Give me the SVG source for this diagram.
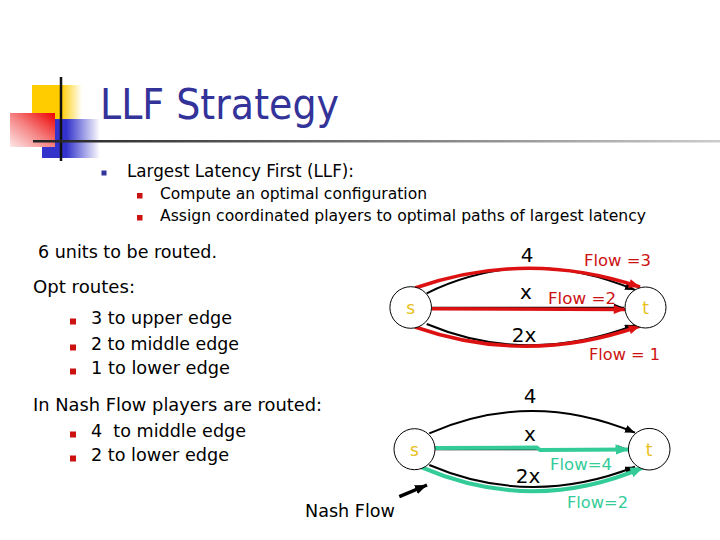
<svg xmlns="http://www.w3.org/2000/svg" width="720" height="540" viewBox="0 0 720 540">
<defs>
<style>
.t{font-family:"DejaVu Sans","Liberation Sans",sans-serif;fill:#000}
.ttl{font-family:"DejaVu Sans","Liberation Sans",sans-serif;fill:#333399;font-size:43px}
.b1{font-size:17px}
.b2{font-size:15.5px}
.l{font-size:18px}
.g{font-family:"DejaVu Sans","Liberation Sans",sans-serif;font-size:20px;fill:#000}
.fr{font-family:"DejaVu Sans","Liberation Sans",sans-serif;font-size:16.5px;fill:#cc1111}
.ft{font-family:"DejaVu Sans","Liberation Sans",sans-serif;font-size:16.5px;fill:#33cc99}
.nl{font-family:"DejaVu Sans","Liberation Sans",sans-serif;font-size:17px;fill:#e8c020;text-anchor:middle}
.node{fill:#fff;stroke:#000;stroke-width:1}
.eb{fill:none;stroke:#000;stroke-width:2}
.er{fill:none;stroke:#dd1111;stroke-width:3.5}
.et{fill:none;stroke:#33cc99;stroke-width:4}
.rb{fill:#cc1111}
</style>
<linearGradient id="gy" x1="0" y1="0" x2="1" y2="0">
<stop offset="0" stop-color="#ffcc00"/><stop offset="0.58" stop-color="#ffcc00"/><stop offset="1" stop-color="#ffcc00" stop-opacity="0"/>
</linearGradient>
<linearGradient id="gb" x1="0" y1="0" x2="1" y2="0">
<stop offset="0" stop-color="#3333cc"/><stop offset="0.42" stop-color="#3333cc"/><stop offset="1" stop-color="#3333cc" stop-opacity="0"/>
</linearGradient>
<linearGradient id="gr" x1="0" y1="1" x2="1" y2="0">
<stop offset="0" stop-color="#fde8e8"/><stop offset="0.5" stop-color="#f58080"/><stop offset="1" stop-color="#ee0000"/>
</linearGradient>
<linearGradient id="gl" x1="0" y1="0" x2="1" y2="0">
<stop offset="0" stop-color="#222"/><stop offset="1" stop-color="#cccccc"/>
</linearGradient>
<marker id="ab" viewBox="0 0 10 8" refX="10" refY="4" markerWidth="10" markerHeight="8" markerUnits="userSpaceOnUse" orient="auto">
<path d="M0,0 L10,4 L0,8 z" fill="#000"/>
</marker>
<marker id="ar" viewBox="0 0 10 8" refX="10" refY="4" markerWidth="12" markerHeight="9" markerUnits="userSpaceOnUse" orient="auto">
<path d="M0,0 L10,4 L0,8 z" fill="#dd1111"/>
</marker>
<marker id="at" viewBox="0 0 10 8" refX="10" refY="4" markerWidth="13" markerHeight="11" markerUnits="userSpaceOnUse" orient="auto">
<path d="M0,0 L10,4 L0,8 z" fill="#33cc99"/>
</marker>
<marker id="ak" viewBox="0 0 10 8" refX="10" refY="4" markerWidth="12" markerHeight="10" markerUnits="userSpaceOnUse" orient="auto">
<path d="M0,0 L10,4 L0,8 z" fill="#000"/>
</marker>
</defs>
<rect width="720" height="540" fill="#fff"/>

<g id="title-deco">
<rect x="32" y="85" width="50" height="34" fill="url(#gy)"/>
<rect x="42" y="119" width="58" height="39" fill="url(#gb)"/>
<rect x="10" y="113" width="45" height="34" fill="url(#gr)"/>
<line x1="61" y1="77" x2="61" y2="161" stroke="#111" stroke-width="2.5"/>
<rect x="33" y="140" width="687" height="2.5" fill="url(#gl)"/>
</g>
<g id="title"><text class="ttl" x="100" y="119" textLength="239" lengthAdjust="spacingAndGlyphs">LLF Strategy</text></g>

<g id="bullets-top">
<rect x="101.5" y="170.5" width="5" height="5" fill="#333399"/>
<text class="t b1" x="127" y="177" textLength="227" lengthAdjust="spacingAndGlyphs">Largest Latency First (LLF):</text>
<rect class="rb" x="137" y="193" width="5.5" height="5.5"/>
<text class="t b2" x="160" y="199" textLength="267" lengthAdjust="spacingAndGlyphs">Compute an optimal configuration</text>
<rect class="rb" x="137" y="215" width="5.5" height="5.5"/>
<text class="t b2" x="160" y="221" textLength="486" lengthAdjust="spacingAndGlyphs">Assign coordinated players to optimal paths of largest latency</text>
</g>

<g id="left-text">
<text class="t l" x="38" y="258" textLength="179" lengthAdjust="spacingAndGlyphs">6 units to be routed.</text>
<text class="t l" x="33" y="293" textLength="102" lengthAdjust="spacingAndGlyphs">Opt routes:</text>
<rect class="rb" x="70" y="318.5" width="6" height="6"/>
<text class="t l" x="91" y="324" textLength="141" lengthAdjust="spacingAndGlyphs">3 to upper edge</text>
<rect class="rb" x="70" y="344.5" width="6" height="6"/>
<text class="t l" x="91" y="350" textLength="148" lengthAdjust="spacingAndGlyphs">2 to middle edge</text>
<rect class="rb" x="70" y="368.5" width="6" height="6"/>
<text class="t l" x="91" y="374" textLength="139" lengthAdjust="spacingAndGlyphs">1 to lower edge</text>
<text class="t l" x="33" y="411" textLength="289" lengthAdjust="spacingAndGlyphs">In Nash Flow players are routed:</text>
<rect class="rb" x="70" y="431.5" width="6" height="6"/>
<text class="t l" x="91" y="437" style="white-space:pre" textLength="155" lengthAdjust="spacingAndGlyphs">4  to middle edge</text>
<rect class="rb" x="70" y="455.5" width="6" height="6"/>
<text class="t l" x="91" y="461" textLength="138" lengthAdjust="spacingAndGlyphs">2 to lower edge</text>
<text class="t l" x="305" y="517" textLength="90" lengthAdjust="spacingAndGlyphs">Nash Flow</text>
</g>

<g id="connectors">
<!-- top graph -->
<path class="eb" d="M426.7,293.3 Q527,244.4 635,290" marker-end="url(#ab)"/>
<path class="eb" d="M431.7,307.7 L624,307.7" marker-end="url(#ab)"/>
<path class="eb" d="M426.7,324 Q527,366 635,325" marker-end="url(#ab)"/>
<path class="er" d="M415,288 Q527,249 640,287" marker-end="url(#ar)"/>
<path class="er" d="M431.7,308.8 L625,309.5" marker-end="url(#ar)"/>
<path class="er" d="M415,327 Q527,366 640,326" marker-end="url(#ar)"/>
<!-- bottom graph -->
<path class="eb" d="M429.3,433.3 Q530,389 635,432.7" marker-end="url(#ab)"/>
<path class="eb" d="M435,449.3 L628,449.3" marker-end="url(#ab)"/>
<path class="eb" d="M429.3,465 Q530,508 635,466.7" marker-end="url(#ab)"/>
<path class="et" d="M433.3,448 L536.7,447.5 L540,450 L628.5,449.5" marker-end="url(#at)"/>
<path class="et" d="M421.7,467.3 Q533,515 643.3,467.3" marker-end="url(#at)"/>
<!-- pointer -->
<path fill="none" stroke="#000" stroke-width="3.5" d="M399.3,496.7 L427,485" marker-end="url(#ak)"/>
</g>

<g id="s1"><circle class="node" cx="410.7" cy="307.5" r="20.8"/><text class="nl" x="410.7" y="314">s</text></g>
<g id="t1"><circle class="node" cx="645.5" cy="307.5" r="20.5"/><text class="nl" x="645.5" y="314">t</text></g>
<g id="s2"><circle class="node" cx="414.5" cy="449.2" r="20.5"/><text class="nl" x="414.5" y="456">s</text></g>
<g id="t2"><circle class="node" cx="649.2" cy="449.2" r="20.8"/><text class="nl" x="649.2" y="456">t</text></g>

<g id="edge-labels">
<text class="g" x="527" y="262" text-anchor="middle">4</text>
<text class="g" x="526" y="299" text-anchor="middle">x</text>
<text class="g" x="524" y="342" text-anchor="middle">2x</text>
<text class="fr" x="584" y="266" textLength="67" lengthAdjust="spacingAndGlyphs">Flow =3</text>
<text class="fr" x="548" y="304" textLength="68" lengthAdjust="spacingAndGlyphs">Flow =2</text>
<text class="fr" x="589" y="360" textLength="71" lengthAdjust="spacingAndGlyphs">Flow = 1</text>
<text class="g" x="530" y="403" text-anchor="middle">4</text>
<text class="g" x="530" y="441" text-anchor="middle">x</text>
<text class="g" x="528" y="483" text-anchor="middle">2x</text>
<text class="ft" x="550" y="470" textLength="62" lengthAdjust="spacingAndGlyphs">Flow=4</text>
<text class="ft" x="567" y="508" textLength="61" lengthAdjust="spacingAndGlyphs">Flow=2</text>
</g>
</svg>
